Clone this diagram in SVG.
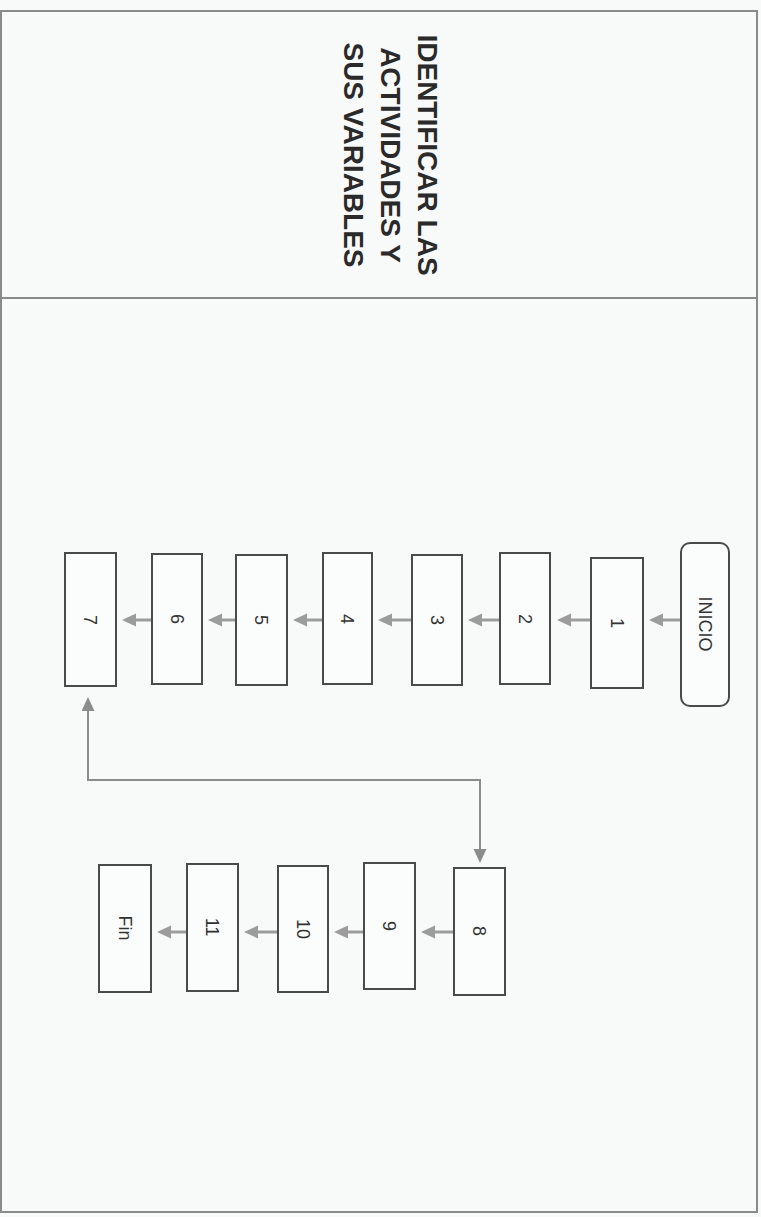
<svg xmlns="http://www.w3.org/2000/svg" width="761" height="1217" viewBox="0 0 761 1217">
<defs>
<style>
.frame{fill:none;stroke:#8a8a8a;stroke-width:2}
.box{fill:#fbfcfc;stroke:#4a4a4a;stroke-width:2}
.lbl{font-family:"Liberation Sans",Arial,sans-serif;font-size:18px;fill:#333;text-anchor:middle;dominant-baseline:central}
.title{font-family:"Liberation Sans",Arial,sans-serif;font-size:28px;font-weight:bold;fill:#2a2a2a;text-anchor:middle}
.arr{fill:none;stroke:#9c9c9c;stroke-width:3;marker-end:url(#ah)}
.link{fill:none;stroke:#8c8c8c;stroke-width:2;marker-start:url(#ah2);marker-end:url(#ah2)}
</style>
<marker id="ah" markerUnits="userSpaceOnUse" markerWidth="16" markerHeight="14" refX="4" refY="6.5" orient="auto">
<path d="M0,0 L14,6.5 L0,13 z" fill="#9c9c9c"/>
</marker>
<marker id="ah2" markerUnits="userSpaceOnUse" markerWidth="16" markerHeight="14" refX="4" refY="6.5" orient="auto-start-reverse">
<path d="M0,0 L14,6.5 L0,13 z" fill="#8c8c8c"/>
</marker>
</defs>
<rect x="0" y="0" width="761" height="1217" fill="#f8f9f9"/>
<g id="frame">
<rect class="frame" x="1" y="11" width="756" height="1201"/>
<line class="frame" x1="1" y1="298" x2="757" y2="298"/>
</g>
<g id="title" transform="translate(400,155) rotate(90)">
<text class="title" x="0" y="-18">IDENTIFICAR LAS</text>
<text class="title" x="0" y="19">ACTIVIDADES Y</text>
<text class="title" x="0" y="56">SUS VARIABLES</text>
</g>
<g id="connectors">
<line class="arr" x1="681" y1="620" x2="659" y2="620"/>
<line class="arr" x1="591" y1="620" x2="567" y2="620"/>
<line class="arr" x1="500" y1="620" x2="478" y2="620"/>
<line class="arr" x1="412" y1="620" x2="388" y2="620"/>
<line class="arr" x1="323" y1="620" x2="303" y2="620"/>
<line class="arr" x1="236" y1="620" x2="218" y2="620"/>
<line class="arr" x1="152" y1="620" x2="132" y2="620"/>
<line class="arr" x1="454" y1="932" x2="431" y2="932"/>
<line class="arr" x1="364" y1="932" x2="344" y2="932"/>
<line class="arr" x1="278" y1="932" x2="254" y2="932"/>
<line class="arr" x1="187" y1="932" x2="167" y2="932"/>
<path class="link" d="M88,707 L88,780 L480,780 L480,853"/>
</g>
<g id="inicio"><rect class="box" x="681" y="543" width="48" height="163" rx="9"/><text class="lbl" transform="translate(705,624) rotate(90)">INICIO</text></g>
<g id="n1"><rect class="box" x="591" y="558" width="52" height="130"/><text class="lbl" transform="translate(617,623) rotate(90)">1</text></g>
<g id="n2"><rect class="box" x="500" y="553" width="50" height="131"/><text class="lbl" transform="translate(525,619) rotate(90)">2</text></g>
<g id="n3"><rect class="box" x="412" y="555" width="50" height="130"/><text class="lbl" transform="translate(437,620) rotate(90)">3</text></g>
<g id="n4"><rect class="box" x="323" y="553" width="49" height="131"/><text class="lbl" transform="translate(347,619) rotate(90)">4</text></g>
<g id="n5"><rect class="box" x="236" y="555" width="51" height="130"/><text class="lbl" transform="translate(261,620) rotate(90)">5</text></g>
<g id="n6"><rect class="box" x="152" y="554" width="50" height="130"/><text class="lbl" transform="translate(177,619) rotate(90)">6</text></g>
<g id="n7"><rect class="box" x="65" y="553" width="51" height="133"/><text class="lbl" transform="translate(90,620) rotate(90)">7</text></g>
<g id="n8"><rect class="box" x="454" y="868" width="51" height="127"/><text class="lbl" transform="translate(479,931) rotate(90)">8</text></g>
<g id="n9"><rect class="box" x="364" y="863" width="51" height="126"/><text class="lbl" transform="translate(389,926) rotate(90)">9</text></g>
<g id="n10"><rect class="box" x="278" y="866" width="50" height="126"/><text class="lbl" transform="translate(303,929) rotate(90)">10</text></g>
<g id="n11"><rect class="box" x="187" y="864" width="51" height="127"/><text class="lbl" transform="translate(212,927) rotate(90)">11</text></g>
<g id="fin"><rect class="box" x="99" y="865" width="52" height="127"/><text class="lbl" transform="translate(125,928) rotate(90)">Fin</text></g>
</svg>
